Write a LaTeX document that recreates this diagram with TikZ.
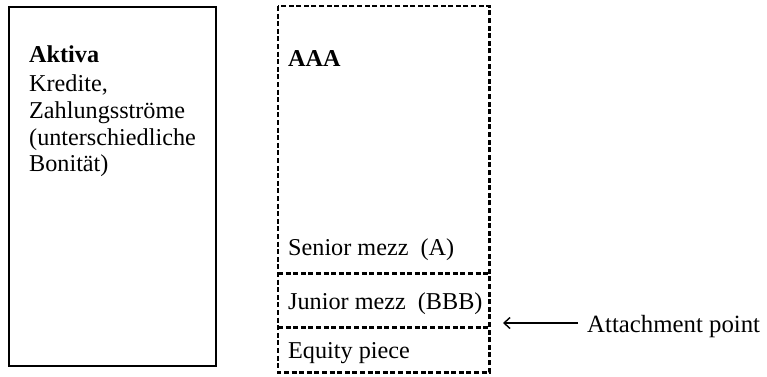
\documentclass[tikz,border=0pt]{standalone}
\usepackage{fontspec}
\setmainfont{Liberation Serif}
\usetikzlibrary{arrows.meta}
\tikzset{
  txt/.style={anchor=base west, inner sep=0pt, font=\fontsize{24.2}{27}\selectfont},
  boldtxt/.style={txt, font=\fontsize{24.2}{27}\selectfont\bfseries},
  solidbox/.style={draw, line width=2.4pt, inner sep=0pt},
  dashline/.style={line width=2.4pt, dash pattern=on 5pt off 2.6pt},
  tranche/.style={inner sep=0pt, minimum width=211pt, anchor=north west},
  pointer/.style={line width=1.4pt, -{Straight Barb[length=6pt,width=11pt,line width=1.4pt]}}
}
\begin{document}
\begin{tikzpicture}[x=1pt, y=-1pt]
\useasboundingbox (0,0) rectangle (767,376);
% asset box
\node[solidbox, minimum width=207pt, minimum height=359pt, anchor=north west] (assets) at (8,6) {};
\node[boldtxt] (a1) at (29,62) {Aktiva};
\node[txt] (a2) at (29,91) {Kredite,};
\node[txt] (a3) at (29,118) {Zahlungsströme};
\node[txt] (a4) at (29,145) {(unterschiedliche};
\node[txt] (a5) at (29,171) {Bonität)};
% tranche boxes
\node[tranche, minimum height=267pt] (senior) at (278,6) {};
\node[tranche, minimum height=54pt] (junior) at (278,273) {};
\node[tranche, minimum height=45pt] (equity) at (278,327) {};
\draw[dashline] (senior.north west) rectangle (equity.south east);
\draw[dashline] (senior.south west) -- (senior.south east);
\draw[dashline] (junior.south west) -- (junior.south east);
\node[boldtxt] (aaa) at (288,66) {AAA};
\node[txt] (sm) at (288,255) {Senior mezz\ \ (A)};
\node[txt] (jm) at (288,309) {Junior mezz\ \ (BBB)};
\node[txt] (eq) at (288,358) {Equity piece};
% attachment point
\node[txt, font=\fontsize{24.8}{27}\selectfont] (attach) at (587,332) {Attachment point};
\coordinate (tail) at (578,323);
\coordinate (ap) at (503,323);
\draw[pointer] (tail) -- (ap);
\end{tikzpicture}
\end{document}
